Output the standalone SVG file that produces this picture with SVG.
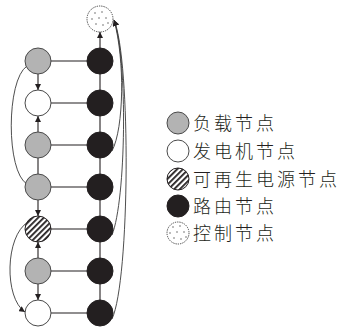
<svg xmlns="http://www.w3.org/2000/svg" width="341" height="332" viewBox="0 0 341 332">
  <style>
    .ln { stroke: #231f20; stroke-width: 1.1; fill: none; }
    .cv { stroke: #3a3a3a; stroke-width: 0.9; fill: none; }
    .load { fill: #b3b3b3; stroke: #4a4a4a; stroke-width: 1; }
    .gen { fill: #ffffff; stroke: #4a4a4a; stroke-width: 1; }
    .ren { fill: url(#hatch); stroke: #231f20; stroke-width: 1; }
    .route { fill: #231f20; stroke: #231f20; stroke-width: 1; }
    .ctrl { fill: #ffffff; stroke: #333; stroke-width: 0.9; stroke-dasharray: 1.3 1; }
    .dot { fill: #6a6a6a; }
    .lbl { font-family: "Noto Sans CJK SC", "Noto Sans", sans-serif; font-size: 18px; font-weight: 300; letter-spacing: 3px; fill: #231f20; }
  </style>
  <defs>
    <pattern id="hatch" patternUnits="userSpaceOnUse" width="4" height="4" patternTransform="rotate(45)">
      <rect width="4" height="4" fill="#ffffff"/>
      <rect x="0" y="0" width="1.8" height="4" fill="#231f20"/>
    </pattern>
    <marker id="arr" viewBox="0 0 6 6" refX="6" refY="3" markerWidth="6" markerHeight="6" markerUnits="userSpaceOnUse" orient="auto">
      <path d="M0,0 L6,3 L0,6 Z" fill="#231f20"/>
    </marker>
    <g id="dots">
      <circle class="dot" cx="-5" cy="-6" r="0.8"/>
      <circle class="dot" cx="2" cy="-7" r="0.8"/>
      <circle class="dot" cx="-8" cy="0" r="0.8"/>
      <circle class="dot" cx="-1" cy="-1" r="0.8"/>
      <circle class="dot" cx="6" cy="-1" r="0.8"/>
      <circle class="dot" cx="-4" cy="5" r="0.8"/>
      <circle class="dot" cx="3" cy="6" r="0.8"/>
      <circle class="dot" cx="8" cy="4" r="0.8"/>
    </g>
  </defs>

  <!-- connectors -->
  <g id="connectors">
    <!-- row links between left column and router column -->
    <line class="ln" x1="38" y1="61" x2="100" y2="61"/>
    <line class="ln" x1="38" y1="103" x2="100" y2="103"/>
    <line class="ln" x1="38" y1="145" x2="100" y2="145"/>
    <line class="ln" x1="38" y1="187" x2="100" y2="187"/>
    <line class="ln" x1="38" y1="229" x2="100" y2="229"/>
    <line class="ln" x1="38" y1="271" x2="100" y2="271"/>
    <line class="ln" x1="38" y1="313" x2="100" y2="313"/>
    <!-- router backbone -->
    <line class="ln" x1="100" y1="61" x2="100" y2="313"/>
    <line class="ln" x1="100" y1="48" x2="100" y2="32" marker-end="url(#arr)"/>
    <!-- left column links -->
    <line class="ln" x1="38" y1="74" x2="38" y2="90" marker-end="url(#arr)"/>
    <line class="ln" x1="38" y1="132" x2="38" y2="116" marker-end="url(#arr)"/>
    <line class="ln" x1="38" y1="158" x2="38" y2="174"/>
    <line class="ln" x1="38" y1="200" x2="38" y2="216" marker-end="url(#arr)"/>
    <line class="ln" x1="38" y1="258" x2="38" y2="242" marker-end="url(#arr)"/>
    <line class="ln" x1="38" y1="284" x2="38" y2="300" marker-end="url(#arr)"/>
    <!-- left bypass curves -->
    <path class="cv" d="M27,66 C6,80 6,172 27,184"/>
    <path class="cv" d="M28,222 C5,236 4,298 25,312" marker-end="url(#arr)"/>
    <!-- router-to-control curves -->
    <path class="cv" d="M112,151 C124,128 125,60 114,20" marker-end="url(#arr)"/>
    <path class="cv" d="M112,235 C126,200 128,60 114,20" marker-end="url(#arr)"/>
    <path class="cv" d="M112,319 C130,280 131,60 114,20" marker-end="url(#arr)"/>
  </g>

  <!-- control node -->
  <g id="control">
    <circle class="ctrl" cx="100" cy="19" r="13"/>
    <use href="#dots" x="100" y="19"/>
  </g>

  <!-- left column -->
  <g id="load1"><circle class="load" cx="38" cy="61" r="13"/></g>
  <g id="gen1"><circle class="gen" cx="38" cy="103" r="13"/></g>
  <g id="load2"><circle class="load" cx="38" cy="145" r="13"/></g>
  <g id="load3"><circle class="load" cx="38" cy="187" r="13"/></g>
  <g id="renewable"><circle class="ren" cx="38" cy="229" r="13"/></g>
  <g id="load4"><circle class="load" cx="38" cy="271" r="13"/></g>
  <g id="gen2"><circle class="gen" cx="38" cy="313" r="13"/></g>

  <!-- router column -->
  <g id="router1"><circle class="route" cx="100" cy="61" r="13"/></g>
  <g id="router2"><circle class="route" cx="100" cy="103" r="13"/></g>
  <g id="router3"><circle class="route" cx="100" cy="145" r="13"/></g>
  <g id="router4"><circle class="route" cx="100" cy="187" r="13"/></g>
  <g id="router5"><circle class="route" cx="100" cy="229" r="13"/></g>
  <g id="router6"><circle class="route" cx="100" cy="271" r="13"/></g>
  <g id="router7"><circle class="route" cx="100" cy="313" r="13"/></g>

  <!-- legend -->
  <g id="legend">
    <circle class="load" cx="178" cy="123" r="11"/>
    <text class="lbl" x="193" y="130">负载节点</text>
    <circle class="gen" cx="178" cy="151" r="11"/>
    <text class="lbl" x="193" y="158">发电机节点</text>
    <circle class="ren" cx="178" cy="179" r="11"/>
    <text class="lbl" x="193" y="186">可再生电源节点</text>
    <circle class="route" cx="178" cy="206" r="11"/>
    <text class="lbl" x="193" y="213">路由节点</text>
    <circle class="ctrl" cx="178" cy="233" r="11"/>
    <use href="#dots" x="178" y="233"/>
    <text class="lbl" x="193" y="240">控制节点</text>
  </g>
</svg>
